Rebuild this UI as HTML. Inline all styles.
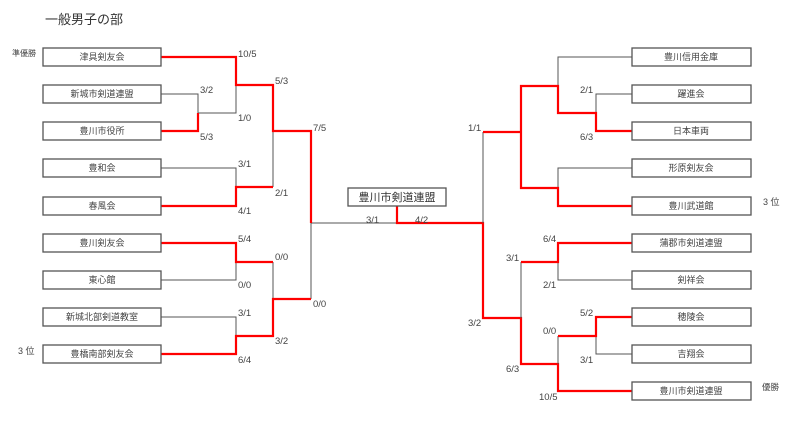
<!DOCTYPE html>
<html><head><meta charset="utf-8"><style>
html,body{margin:0;padding:0;background:#fff;}
svg{display:block;}
text{font-family:"Liberation Sans","Noto Sans CJK JP",sans-serif;fill:#444;}
.s{font-size:9.5px;}
.n{font-size:9px;text-anchor:middle;}
.g{stroke:#555;stroke-width:1;fill:none;}
.r{stroke:#f00;stroke-width:2.2;fill:none;}
.b{stroke:#555;stroke-width:1.3;fill:#fff;}
</style></head><body>
<svg width="800" height="422" viewBox="0 0 800 422" xmlns="http://www.w3.org/2000/svg">
<text x="45" y="24" style="font-size:13px;fill:#333">一般男子の部</text>
<text x="12" y="56" style="font-size:8px">準優勝</text>
<text x="18" y="354" style="font-size:9px">3 位</text>
<text x="763" y="205" style="font-size:9px">3 位</text>
<text x="762" y="390" style="font-size:8.5px">優勝</text>

<path class="g" d="M161 94H198V113 M198 113H236V85 M161 168H236V187 M273 131V187 M161 280H236V262 M161 317H236V336 M273 262V299 M311 222V299 M311 223H397"/>
<path class="r" d="M161 57H236V85H273V131H311V223 M161 131H198V113 M161 206H236V187H273 M161 243H236V262H273 M161 354H236V336H273V299H311"/>
<path class="r" d="M397 206V223H483V318H521V364H558V391H632"/>
<path class="g" d="M483 223V132 M632 57H558V86 M632 94H596V113 M632 168H558V188 M521 262V318 M632 280H558V262 M632 354H596V336 M558 336V364"/>
<path class="r" d="M483 132H521V188H558V206H632 M521 132V86H558V113H596V131H632 M521 262H558V243H632 M558 336H596V317H632"/>

<g>
<rect class="b" x="43" y="48" width="118" height="18"/><text class="n" x="102" y="60">津具剣友会</text>
<rect class="b" x="43" y="85" width="118" height="18"/><text class="n" x="102" y="97">新城市剣道連盟</text>
<rect class="b" x="43" y="122" width="118" height="18"/><text class="n" x="102" y="134">豊川市役所</text>
<rect class="b" x="43" y="159" width="118" height="18"/><text class="n" x="102" y="171">豊和会</text>
<rect class="b" x="43" y="197" width="118" height="18"/><text class="n" x="102" y="209">春風会</text>
<rect class="b" x="43" y="234" width="118" height="18"/><text class="n" x="102" y="246">豊川剣友会</text>
<rect class="b" x="43" y="271" width="118" height="18"/><text class="n" x="102" y="283">東心館</text>
<rect class="b" x="43" y="308" width="118" height="18"/><text class="n" x="102" y="320">新城北部剣道教室</text>
<rect class="b" x="43" y="345" width="118" height="18"/><text class="n" x="102" y="357">豊橋南部剣友会</text>
</g>
<g>
<rect class="b" x="632" y="48" width="119" height="18"/><text class="n" x="691" y="60">豊川信用金庫</text>
<rect class="b" x="632" y="85" width="119" height="18"/><text class="n" x="691" y="97">躍進会</text>
<rect class="b" x="632" y="122" width="119" height="18"/><text class="n" x="691" y="134">日本車両</text>
<rect class="b" x="632" y="159" width="119" height="18"/><text class="n" x="691" y="171">形原剣友会</text>
<rect class="b" x="632" y="197" width="119" height="18"/><text class="n" x="691" y="209">豊川武道館</text>
<rect class="b" x="632" y="234" width="119" height="18"/><text class="n" x="691" y="246">蒲郡市剣道連盟</text>
<rect class="b" x="632" y="271" width="119" height="18"/><text class="n" x="691" y="283">剣祥会</text>
<rect class="b" x="632" y="308" width="119" height="18"/><text class="n" x="691" y="320">穂陵会</text>
<rect class="b" x="632" y="345" width="119" height="18"/><text class="n" x="691" y="357">吉翔会</text>
<rect class="b" x="632" y="382" width="119" height="18"/><text class="n" x="691" y="394">豊川市剣道連盟</text>
</g>
<rect class="b" x="348" y="188" width="98" height="18"/><text x="397" y="201" style="font-size:11px;text-anchor:middle;fill:#333">豊川市剣道連盟</text>

<g class="s">
<text x="238" y="57">10/5</text>
<text x="200" y="93">3/2</text>
<text x="238" y="121">1/0</text>
<text x="200" y="140">5/3</text>
<text x="275" y="84">5/3</text>
<text x="313" y="131">7/5</text>
<text x="238" y="167">3/1</text>
<text x="275" y="196">2/1</text>
<text x="238" y="214">4/1</text>
<text x="238" y="242">5/4</text>
<text x="275" y="260">0/0</text>
<text x="238" y="288">0/0</text>
<text x="238" y="316">3/1</text>
<text x="313" y="307">0/0</text>
<text x="275" y="344">3/2</text>
<text x="238" y="363">6/4</text>
<text x="366" y="223">3/1</text>
<text x="415" y="223">4/2</text>
<text x="468" y="131">1/1</text>
<text x="580" y="93">2/1</text>
<text x="580" y="140">6/3</text>
<text x="543" y="242">6/4</text>
<text x="506" y="261">3/1</text>
<text x="543" y="288">2/1</text>
<text x="468" y="326">3/2</text>
<text x="580" y="316">5/2</text>
<text x="543" y="334">0/0</text>
<text x="580" y="363">3/1</text>
<text x="506" y="372">6/3</text>
<text x="539" y="400">10/5</text>
</g>
</svg>
</body></html>
